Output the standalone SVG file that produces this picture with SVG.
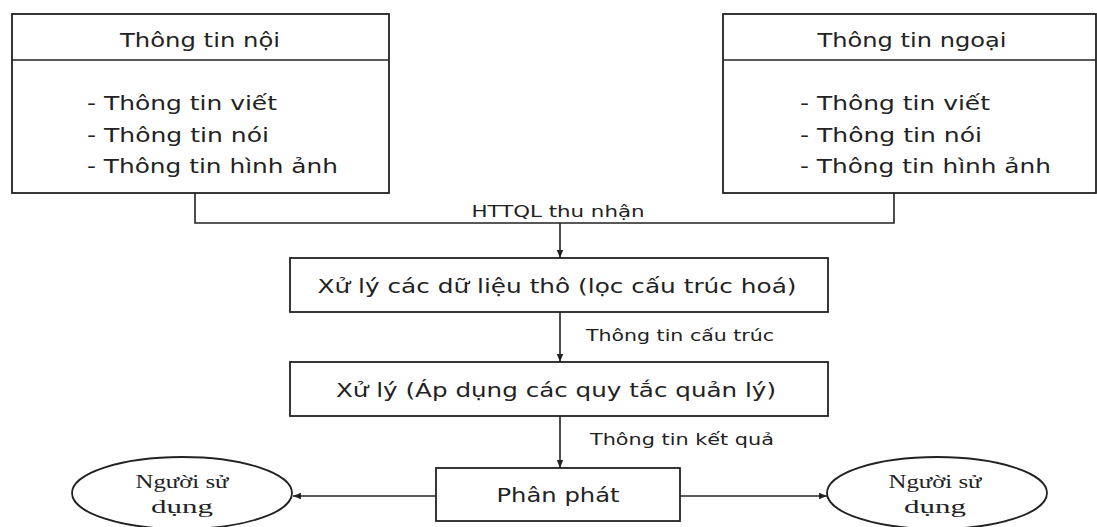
<svg xmlns="http://www.w3.org/2000/svg" width="1097" height="527" viewBox="0 0 1097 527">
<style>
.box{fill:#fff;stroke:#222;stroke-width:1.8}
.ln{fill:none;stroke:#222;stroke-width:1.6}
.t{font-family:"DejaVu Sans",Verdana,sans-serif;font-size:19px;fill:#222}
.s{font-family:"DejaVu Sans",Verdana,sans-serif;font-size:15px;fill:#222}
.r{font-family:"Liberation Serif","Times New Roman",serif;font-size:18px;fill:#222}
</style>
<defs>
<marker id="ah" viewBox="0 0 10 10" refX="10" refY="5" markerWidth="8" markerHeight="8" markerUnits="userSpaceOnUse" orient="auto">
<path d="M0,1 L10,5 L0,9 z" fill="#222"/>
</marker>
</defs>
<rect width="1097" height="527" fill="#fff"/>
<g id="connectors">
<path class="ln" d="M195,193 V223 H894 V193"/>
<line class="ln" x1="560" y1="223" x2="560" y2="258" marker-end="url(#ah)"/>
<line class="ln" x1="560" y1="312" x2="560" y2="362" marker-end="url(#ah)"/>
<line class="ln" x1="560" y1="416" x2="560" y2="468" marker-end="url(#ah)"/>
<line class="ln" x1="436" y1="496" x2="293" y2="496" marker-end="url(#ah)"/>
<line class="ln" x1="680" y1="496" x2="827" y2="496" marker-end="url(#ah)"/>
<text class="s" x="558" y="217" text-anchor="middle" textLength="173" lengthAdjust="spacingAndGlyphs">HTTQL thu nhận</text>
<text class="s" x="586" y="341" textLength="188" lengthAdjust="spacingAndGlyphs">Thông tin cấu trúc</text>
<text class="s" x="590" y="445" textLength="184" lengthAdjust="spacingAndGlyphs">Thông tin kết quả</text>
</g>
<g id="internal">
<rect class="box" x="12" y="14" width="377" height="179"/>
<line class="ln" x1="12" y1="60" x2="389" y2="60"/>
<text class="t" x="200" y="47" text-anchor="middle" textLength="160" lengthAdjust="spacingAndGlyphs">Thông tin nội</text>
<text class="t" x="87" y="110" textLength="190" lengthAdjust="spacingAndGlyphs">- Thông tin viết</text>
<text class="t" x="87" y="142" textLength="182" lengthAdjust="spacingAndGlyphs">- Thông tin nói</text>
<text class="t" x="87" y="173" textLength="251" lengthAdjust="spacingAndGlyphs">- Thông tin hình ảnh</text>
</g>
<g id="external">
<rect class="box" x="723" y="14" width="373" height="179"/>
<line class="ln" x1="723" y1="60" x2="1096" y2="60"/>
<text class="t" x="912" y="47" text-anchor="middle" textLength="189" lengthAdjust="spacingAndGlyphs">Thông tin ngoại</text>
<text class="t" x="800" y="110" textLength="190" lengthAdjust="spacingAndGlyphs">- Thông tin viết</text>
<text class="t" x="800" y="142" textLength="182" lengthAdjust="spacingAndGlyphs">- Thông tin nói</text>
<text class="t" x="800" y="173" textLength="251" lengthAdjust="spacingAndGlyphs">- Thông tin hình ảnh</text>
</g>
<g id="raw">
<rect class="box" x="290" y="258" width="538" height="54"/>
<text class="t" x="557" y="293" text-anchor="middle" textLength="479" lengthAdjust="spacingAndGlyphs">Xử lý các dữ liệu thô (lọc cấu trúc hoá)</text>
</g>
<g id="process">
<rect class="box" x="290" y="362" width="538" height="54"/>
<text class="t" x="556" y="397" text-anchor="middle" textLength="440" lengthAdjust="spacingAndGlyphs">Xử lý (Áp dụng các quy tắc quản lý)</text>
</g>
<g id="distribute">
<rect class="box" x="436" y="468" width="244" height="53"/>
<text class="t" x="558" y="502" text-anchor="middle" textLength="123" lengthAdjust="spacingAndGlyphs">Phân phát</text>
</g>
<g id="user-left">
<ellipse class="box" cx="182" cy="493" rx="110" ry="36"/>
<text class="r" x="182" y="488" text-anchor="middle" textLength="93" lengthAdjust="spacingAndGlyphs">Người sử</text>
<text class="r" x="182" y="513" text-anchor="middle" textLength="62" lengthAdjust="spacingAndGlyphs">dụng</text>
</g>
<g id="user-right">
<ellipse class="box" cx="937" cy="493" rx="110" ry="36"/>
<text class="r" x="935" y="488" text-anchor="middle" textLength="93" lengthAdjust="spacingAndGlyphs">Người sử</text>
<text class="r" x="935" y="513" text-anchor="middle" textLength="62" lengthAdjust="spacingAndGlyphs">dụng</text>
</g>
</svg>
